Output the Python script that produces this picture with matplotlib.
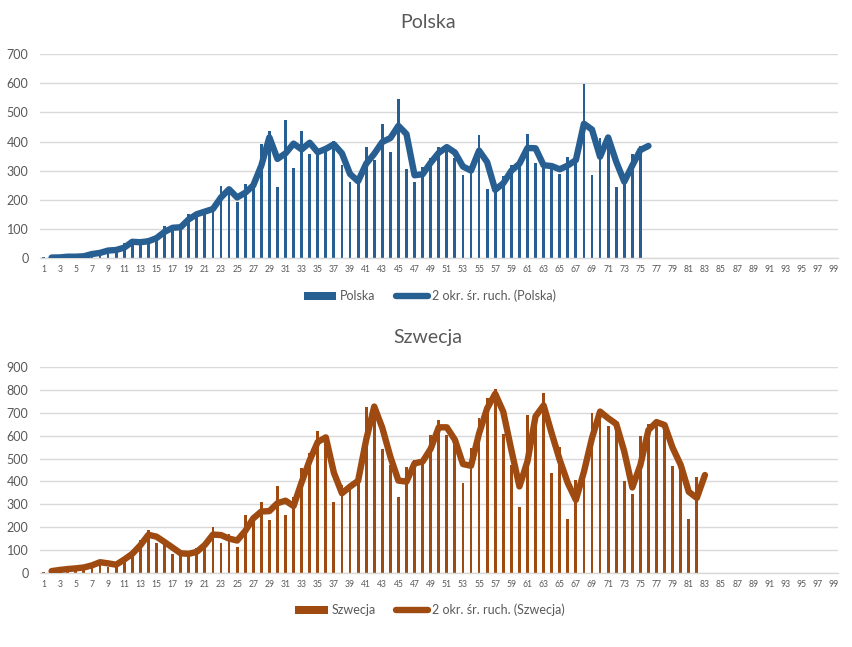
import matplotlib
matplotlib.use("Agg")
import matplotlib.pyplot as plt
import pandas as pd
import numpy as np

# ---- data ----
categories = list(range(1, 100))
tick_labels = [str(c) for c in range(1, 100, 2)]

polska = [4, 1, 5, 6, 5, 9, 20, 17, 36, 21, 52, 61, 49, 68, 70, 111, 98, 115, 152, 150,
          170, 168, 249, 224, 193, 256, 243, 392, 437, 244, 475, 311, 435, 357, 370, 380,
          401, 318, 260, 268, 380, 336, 461, 363, 545, 306, 263, 313, 342, 381, 381, 344,
          285, 316, 422, 237, 232, 282, 318, 330, 426, 328, 310, 322, 288, 348, 325, 597,
          285, 411, 417, 245, 280, 356, 386]
polska_next = 384  # value used by the moving average after the last bar

szwecja = [1, 13, 11, 21, 17, 29, 35, 57, 25, 45, 70, 95, 145, 187, 129, 140, 80, 90, 75,
           108, 135, 199, 131, 168, 114, 251, 225, 311, 229, 380, 251, 333, 460, 525, 621,
           565, 311, 385, 369, 436, 728, 728, 542, 474, 333, 465, 493, 481, 605, 669, 605,
           560, 392, 545, 676, 764, 804, 606, 470, 286, 690, 680, 786, 436, 552, 234, 404,
           480, 701, 711, 643, 661, 402, 345, 599, 651, 669, 625, 469, 475, 234, 421]
szwecja_next = 435

blue = "#275F92"
brown = "#9E4A10"
grid_c = "#D9D9D9"
txt_c = "#595959"

plt.rcParams['font.family'] = ['Lato', 'DejaVu Sans']

fig = plt.figure(figsize=(8.52, 6.47), dpi=100)
fig.patch.set_facecolor("white")

W, H = 852.0, 647.0


def panel(rect, values, nxt, color, name, ymax, title_y, legend_y):
    ax = fig.add_axes(rect)
    x_bar = np.arange(1, len(values) + 1)
    bars = ax.bar(x_bar, values, width=0.35, color=color, zorder=2, label=name)
    ma = pd.Series(values + [nxt]).rolling(2).mean()
    x_ma = np.arange(1, len(values) + 2)
    line, = ax.plot(x_ma, ma, color=color, lw=4.6, solid_capstyle="round",
                    solid_joinstyle="round", zorder=3,
                    label=f"2 okr. śr. ruch. ({name})")
    ax.set_xlim(0.5, 99.5)
    ax.set_ylim(0, ymax)
    ax.set_yticks(np.arange(0, ymax + 1, 100))
    ax.yaxis.grid(True, color=grid_c, lw=1.0, zorder=0)
    ax.set_axisbelow(True)
    ax.set_xticks(list(range(1, 100, 2)))
    ax.set_xticklabels(tick_labels)
    for s in ["top", "right", "left"]:
        ax.spines[s].set_visible(False)
    ax.spines["bottom"].set_color(grid_c)
    ax.spines["bottom"].set_linewidth(1.0)
    ax.tick_params(axis="x", length=0, pad=5, labelsize=6.2, labelcolor=txt_c)
    ax.tick_params(axis="y", length=0, pad=8, labelsize=9, labelcolor=txt_c)
    fig.text(428 / W, 1 - title_y / H, name, ha="center", va="center",
             fontsize=14, color=txt_c)
    fig.legend([bars, line], [name, f"2 okr. śr. ruch. ({name})"],
               loc="center", bbox_to_anchor=(430 / W, 1 - legend_y / H),
               ncol=2, frameon=False, fontsize=9, labelcolor=txt_c,
               handlelength=2.6, handleheight=0.55, handletextpad=0.3,
               columnspacing=1.6)
    return ax


left = 39.5 / W
width = (838 - 39.5) / W
panel([left, 1 - 258.3 / H, width, (258.3 - 54) / H], polska, polska_next,
      blue, "Polska", 700, 22, 296)
panel([left, 1 - 572.7 / H, width, (572.7 - 367.3) / H], szwecja, szwecja_next,
      brown, "Szwecja", 900, 338, 610)

fig.savefig("out.png", dpi=100, facecolor="white")
